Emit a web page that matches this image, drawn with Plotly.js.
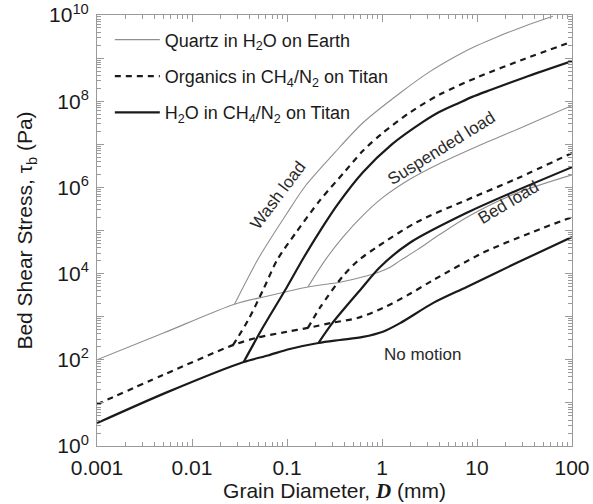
<!DOCTYPE html>
<html>
<head>
<meta charset="utf-8">
<script src="https://cdn.plot.ly/plotly-3.0.1.min.js"></script>
<style>html,body{margin:0;padding:0;background:#fff;}#chart{width:593px;height:504px;}</style>
</head>
<body>
<div id="chart"></div>
<script>
// ---- Data (grain diameter D in mm, bed shear stress tau in Pa) ----
// Quartz in H2O on Earth (gray)
const quartzThreshD   = [0.001, 0.005, 0.028, 0.063, 0.166, 0.36, 0.7, 0.95, 1.2, 1.55, 2.34, 4.0, 7.85, 25, 100];
const quartzThreshTau = [100, 417, 1950, 3020, 4900, 6310, 8900, 11000, 13800, 20000, 35500, 79400, 204000, 708000, 1950000];
const quartzSuspD     = [0.166, 0.25, 0.39, 0.63, 1.0, 2.0, 4.0, 10, 31.6, 100];
const quartzSuspTau   = [4900, 2.0e4, 7.08e4, 2.24e5, 5.62e5, 1.58e6, 3.55e6, 8.91e6, 2.63e7, 7.94e7];
const quartzWashD     = [0.028, 0.05, 0.1, 0.158, 0.316, 0.63, 1.55, 3.16, 6.2, 10, 15.8, 31.6, 63];
const quartzWashTau   = [1950, 2.24e4, 2.51e5, 1.12e6, 6.31e6, 3.16e7, 1.55e8, 4.79e8, 1.15e9, 1.95e9, 3.02e9, 5.5e9, 9.33e9];
// Organics in CH4/N2 on Titan (dashed)
const orgThreshD   = [0.001, 0.005, 0.027, 0.048, 0.1, 0.166, 0.30, 0.55, 1.02, 1.86, 3.47, 11.5, 38.9, 100];
const orgThreshTau = [9.3, 44.7, 219, 324, 447, 550, 724, 933, 1585, 3160, 7080, 30200, 93300, 204000];
const orgSuspD     = [0.027, 0.039, 0.056, 0.079, 0.126, 0.224, 0.4, 0.63, 1.0, 2.0, 4.0, 10, 31.6, 100];
const orgSuspTau   = [219, 832, 4170, 20900, 93300, 513000, 2.24e6, 7.08e6, 1.78e7, 5.62e7, 1.41e8, 3.55e8, 9.55e8, 2.4e9];
const orgBedD      = [0.166, 0.224, 0.39, 0.56, 0.89, 2.34, 7.8, 26.3, 100];
const orgBedTau    = [550, 1660, 8900, 20000, 41700, 158000, 513000, 1.6e6, 6.3e6];
// H2O in CH4/N2 on Titan (solid)
const h2oThreshD   = [0.001, 0.0055, 0.035, 0.063, 0.107, 0.214, 0.36, 0.63, 1.02, 1.55, 3.47, 7.8, 26.3, 100];
const h2oThreshTau = [3.4, 17.8, 89, 126, 178, 245, 288, 339, 447, 708, 2090, 4900, 17800, 70800];
const h2oSuspD     = [0.035, 0.056, 0.1, 0.148, 0.24, 0.34, 0.63, 1.26, 2.7, 4.0, 6.3, 8.9, 13.8, 31.6, 100];
const h2oSuspTau   = [89, 575, 4900, 22400, 126000, 398000, 2.24e6, 9.8e6, 3.3e7, 5.6e7, 8.9e7, 1.26e8, 1.82e8, 3.55e8, 8.5e8];
const h2oBedD      = [0.214, 0.30, 0.59, 0.95, 1.95, 7.8, 26.3, 100];
const h2oBedTau    = [245, 708, 4170, 14100, 51300, 257000, 851000, 2.95e6];

const seriesNames = ["Quartz in H<sub>2</sub>O on Earth", "Organics in CH<sub>4</sub>/N<sub>2</sub> on Titan", "H<sub>2</sub>O in CH<sub>4</sub>/N<sub>2</sub> on Titan"];
const xTickVals = [0.001, 0.01, 0.1, 1, 10, 100];
const xTickText = ["0.001", "0.01", "0.1", "1", "10", "100"];
const yTickVals = [1, 1e1, 1e2, 1e3, 1e4, 1e5, 1e6, 1e7, 1e8, 1e9, 1e10];
const yTickText = ["10<sup>0</sup>", "", "10<sup>2</sup>", "", "10<sup>4</sup>", "", "10<sup>6</sup>", "", "10<sup>8</sup>", "", "10<sup>10</sup>"];
const regionLabels = ["Wash load", "Suspended load", "Bed load", "No motion"];
const regionX = [0.08, 4.2, 21.4, 2.7];
const regionY = [6.6e5, 8.1e6, 4.4e5, 130];
const regionAngle = [-53, -32, -31, 0];

// ---- Styles ----
const grayLine = {color: "#8f8f8f", width: 1.1, shape: "spline", smoothing: 0.8};
const dashLine = {color: "#1a1a1a", width: 2.2, dash: "6px,5px", shape: "spline", smoothing: 0.8};
const solidLine = {color: "#1a1a1a", width: 2.2, shape: "spline", smoothing: 0.8};

function tr(x, y, line, group, name, show) {
  return {type: "scatter", mode: "lines", x: x, y: y, line: line, legendgroup: group,
          name: name || "", showlegend: !!show, hoverinfo: "skip"};
}

const traces = [
  tr(quartzThreshD, quartzThreshTau, grayLine, "q", seriesNames[0], true),
  tr(quartzSuspD, quartzSuspTau, grayLine, "q"),
  tr(quartzWashD, quartzWashTau, grayLine, "q"),
  tr(orgThreshD, orgThreshTau, dashLine, "o", seriesNames[1], true),
  tr(orgSuspD, orgSuspTau, dashLine, "o"),
  tr(orgBedD, orgBedTau, dashLine, "o"),
  tr(h2oThreshD, h2oThreshTau, solidLine, "h", seriesNames[2], true),
  tr(h2oSuspD, h2oSuspTau, solidLine, "h"),
  tr(h2oBedD, h2oBedTau, solidLine, "h")
];

function minorVals(lo, hi) {
  const v = [];
  for (let e = lo; e < hi; e++) for (let m = 2; m <= 9; m++) v.push(m * Math.pow(10, e));
  return v;
}

const FONT = "Liberation Sans, Arial, Helvetica, sans-serif";
const axisCommon = {
  type: "log", showgrid: false, zeroline: false, showline: true, linecolor: "#9a9a9a", linewidth: 1,
  mirror: "ticks", ticks: "inside", ticklen: 7, tickcolor: "#9a9a9a", tickwidth: 1,
  tickfont: {family: FONT, size: 21, color: "#1a1a1a"},
  tickmode: "array", ticklabelstandoff: 3
};

const layout = {
  width: 593, height: 504,
  margin: {l: 97, r: 21, t: 15, b: 58},
  paper_bgcolor: "#fff", plot_bgcolor: "#fff",
  font: {family: FONT, color: "#1a1a1a"},
  xaxis: Object.assign({}, axisCommon, {
    range: [-3, 2], tickvals: xTickVals, ticktext: xTickText,
    minor: {tickmode: "array", tickvals: minorVals(-3, 2), ticks: "inside", ticklen: 4, tickcolor: "#9a9a9a"},
    title: {text: "Grain Diameter, <span style=\"font-family:'Liberation Serif',serif\"><b><i>D</i></b></span> (mm)",
            font: {size: 21, color: "#1a1a1a"}, standoff: 0}
  }),
  yaxis: Object.assign({}, axisCommon, {
    range: [0, 10], tickvals: yTickVals, ticktext: yTickText,
    minor: {tickmode: "array", tickvals: minorVals(0, 10), ticks: "inside", ticklen: 4, tickcolor: "#9a9a9a"},
    title: {text: "Bed Shear Stress, τ<sub>b</sub> (Pa)", font: {size: 21, color: "#1a1a1a"}, standoff: 10}
  }),
  showlegend: true,
  legend: {x: 0.027, y: 0.985, xanchor: "left", yanchor: "top", bgcolor: "rgba(0,0,0,0)",
           font: {size: 18, color: "#1a1a1a"}, traceorder: "grouped", tracegroupgap: 10, itemwidth: 45},
  annotations: regionLabels.map((t, i) => ({
    x: Math.log10(regionX[i]), y: Math.log10(regionY[i]), xref: "x", yref: "y",
    text: t, showarrow: false, textangle: regionAngle[i],
    font: {size: 17, color: "#2a2a2a"}
  }))
};

Plotly.newPlot("chart", traces, layout, {staticPlot: true, displayModeBar: false});
</script>
</body>
</html>
